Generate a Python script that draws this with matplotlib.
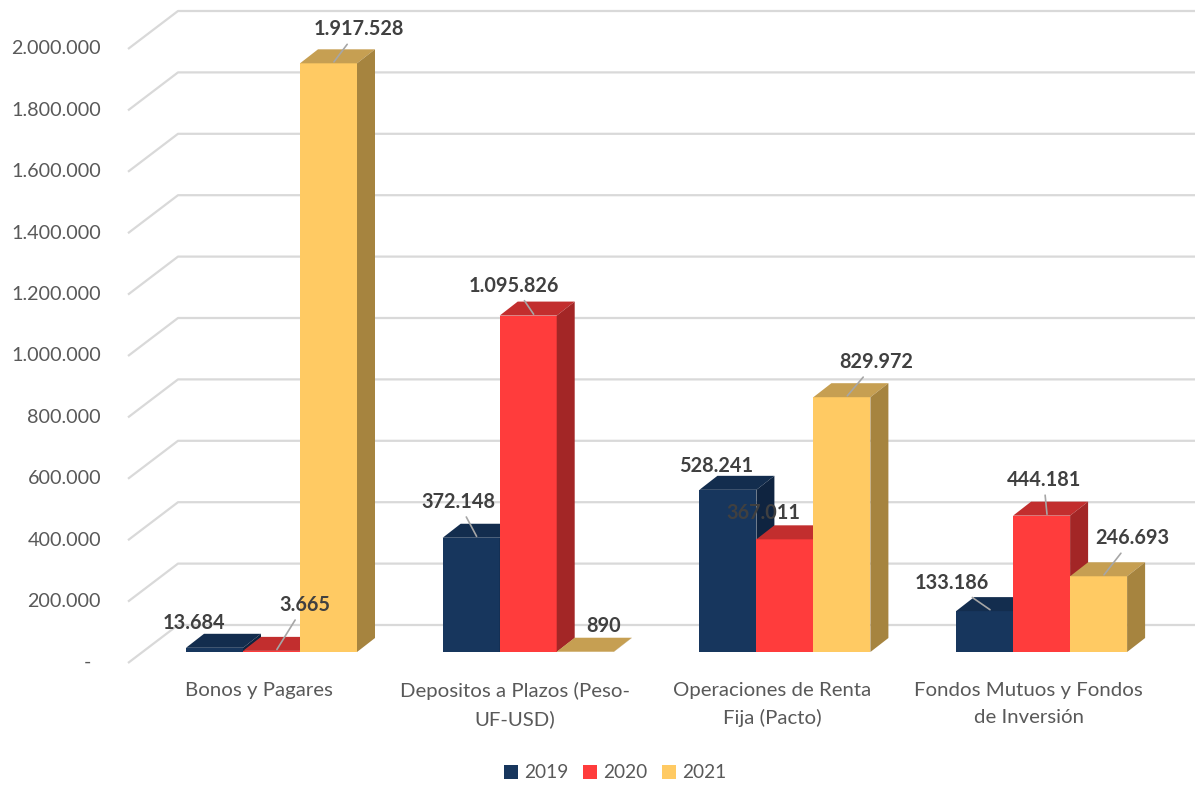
import matplotlib
matplotlib.use("Agg")
import matplotlib.pyplot as plt
from matplotlib.patches import Polygon, Patch
import matplotlib.transforms as mtransforms

# ---------------- data ----------------
categories = ["Bonos y Pagares", "Depositos a Plazos (Peso-\nUF-USD)",
              "Operaciones de Renta\nFija (Pacto)", "Fondos Mutuos y Fondos\nde Inversión"]
years = ["2019", "2020", "2021"]
v2019 = [13684, 372148, 528241, 133186]
v2020 = [3665, 1095826, 367011, 444181]
v2021 = [1917528, 890, 829972, 246693]
yticks = [0, 200000, 400000, 600000, 800000, 1000000, 1200000, 1400000,
          1600000, 1800000, 2000000]

# ---------------- style ----------------
plt.rcParams['font.family'] = ['Lato', 'DejaVu Sans']
front_cols = ["#17365D", "#FF3C3C", "#FFCA63"]
top_cols = ["#132D4E", "#C22E2E", "#C69F52"]
side_cols = ["#0F2440", "#A32626", "#A6843F"]
grid_col = "#D9D9D9"
text_col = "#595959"
lab_col = "#404040"

W, H = 1195, 785
fig = plt.figure(figsize=(W / 100, H / 100), dpi=100)
ax = fig.add_axes([0, 0, 1, 1])
ax.axis('off')

# pixel scaling
s = 2000000 / 614.0          # value units per pixel (vertical)
gx = 256.7                   # pixels per category
x0px = 271.5                 # pixel x of first category centre
base_px = 652                # pixel row of bar base
ax.set_xlim(-x0px / gx, (W - x0px) / gx)
ax.set_ylim(-(H - base_px) * s, base_px * s)

def px_x(p):
    return (p - x0px) / gx

bw = 57 / gx
ddx = 18 / gx
ddy = 14 * s

# ---------------- gridlines (3D walls) ----------------
front_off = -11 * s
back_off = 27 * s
xf, xb = px_x(128), px_x(178)
for v in yticks:
    ax.plot([xf, xb, px_x(W + 5)], [v + front_off, v + back_off, v + back_off],
            color=grid_col, lw=1.6, zorder=1, solid_capstyle='butt')
    lab = "-  " if v == 0 else f"{v:,}".replace(",", ".")
    ax.text(px_x(101), v + front_off, lab, ha='right', va='center',
            fontsize=14.2, color=text_col)

# ---------------- bars ----------------
series = [v2019, v2020, v2021]
# label offsets (pixels, relative to front-top centre) and leader flags
lab_off = [
    [(-21, -25), (-13, -36), (-12, -24), (-33, -28)],
    [(33, -46), (-14, -30), (-22, -26), (2, -36)],
    [(30, -34), (18, -26), (34, -35), (34, -38)],
]
leader = [
    [False, True, False, True],
    [True, True, False, True],
    [True, False, True, True],
]
z = 2
for i in range(len(categories)):
    for j, vals in enumerate(series):
        v = vals[i]
        xc = i + (j - 1) * bw
        xl, xr = xc - bw / 2, xc + bw / 2
        ax.bar(xc, v, width=bw, color=front_cols[j], zorder=z, linewidth=0)
        ax.add_patch(Polygon([(xl, v), (xr, v), (xr + ddx, v + ddy), (xl + ddx, v + ddy)],
                             closed=True, fc=top_cols[j], ec='none', zorder=z))
        ax.add_patch(Polygon([(xr, 0), (xr, v), (xr + ddx, v + ddy), (xr + ddx, ddy)],
                             closed=True, fc=side_cols[j], ec='none', zorder=z))
        z += 1

# labels on top
ax_shift, ay_shift = 0.3, 0.1
for i in range(len(categories)):
    for j, vals in enumerate(series):
        v = vals[i]
        xc = i + (j - 1) * bw
        ox, oy = lab_off[j][i]
        ox -= ddx * ax_shift * gx
        oy += ddy * ay_shift / s
        txt = f"{v:,}".replace(",", ".")
        kw = {}
        if leader[j][i]:
            kw['arrowprops'] = dict(arrowstyle='-', color='#A6A6A6', lw=1.2,
                                    shrinkA=2, shrinkB=0)
        ax.annotate(txt, xy=(xc + ddx * ax_shift, v + ddy * ay_shift),
                    xytext=(ox * 0.72, -oy * 0.72),
                    textcoords='offset points', ha='center', va='center',
                    fontsize=14.3, fontweight='bold', color=lab_col, zorder=50, **kw)

# category labels
trans = mtransforms.blended_transform_factory(ax.transData, ax.transAxes)
for i, c in enumerate(categories):
    ax.text(i - 13 / gx, 1 - 682 / H, c, transform=trans, ha='center', va='top',
            fontsize=14.7, color=text_col, linespacing=1.68, multialignment='center')

# legend
handles = [Patch(facecolor=front_cols[j], edgecolor='none', label=years[j]) for j in range(3)]
leg = fig.legend(handles=handles, loc='center', bbox_to_anchor=(615 / W, 1 - 773 / H),
                 ncol=3, frameon=False, fontsize=13.8, handlelength=0.75, handleheight=0.75,
                 handletextpad=0.3, columnspacing=0.75)
for t in leg.get_texts():
    t.set_color(text_col)

fig.savefig("out.png", dpi=100)
